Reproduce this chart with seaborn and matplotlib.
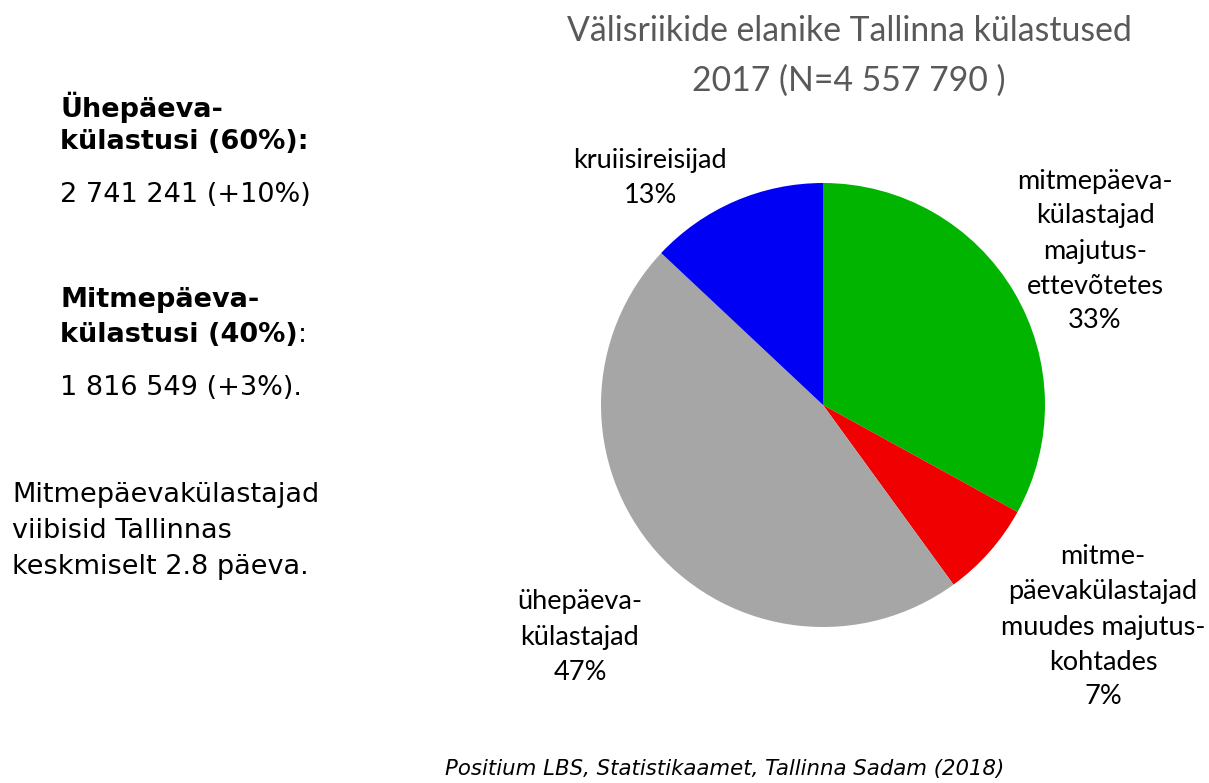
import matplotlib
matplotlib.use("Agg")
import matplotlib.pyplot as plt
import seaborn as sns

# andmed
osad = ["mitmepäeva-\nkülastajad\nmajutus-\nettevõtetes",
        "mitme-\npäevakülastajad\nmuudes majutus-\nkohtades",
        "ühepäeva-\nkülastajad",
        "kruiisireisijad"]
protsendid = [33, 7, 47, 13]
varvid = ["#00b400", "#f00000", "#a6a6a6", "#0000f5"]
# sildi keskpunktid pikslites (x, y ülevalt)
sildi_kohad = [(1095, 251), (1103, 627), (580, 637), (650, 178)]

pealkiri = "Välisriikide elanike Tallinna külastused\n2017 (N=4 557 790 )"
allikas = "Positium LBS, Statistikaamet, Tallinna Sadam (2018)"

W, H = 1209, 783

sns.set_theme(style="white")
plt.rcParams['font.family'] = ['DejaVu Sans']

fig = plt.figure(figsize=(W / 100, H / 100), dpi=100)
fig.patch.set_facecolor("white")

# pirukas
cx, cy, r = 823, 405, 222
ax = fig.add_axes([(cx - r) / W, (H - cy - r) / H, 2 * r / W, 2 * r / H])
ax.pie(protsendid, colors=varvid, startangle=90, counterclock=False,
       wedgeprops=dict(linewidth=0))
ax.set_xlim(-1, 1)
ax.set_ylim(-1, 1)
ax.set_aspect("equal")
ax.axis("off")

def px(x, y):
    return x / W, 1 - y / H

for nimi, p, (x, y) in zip(osad, protsendid, sildi_kohad):
    fig.text(*px(x, y), f"{nimi}\n{p}%", ha="center", va="center",
             fontsize=19.5, family="Lato", color="black", linespacing=1.5)

fig.text(*px(849, 56), pealkiri, ha="center", va="center", fontsize=24.3,
         family="Lato", color="#595959", linespacing=1.68)

fig.text(*px(725, 769), allikas, ha="center", va="center", fontsize=15.3,
         style="italic", family="DejaVu Sans", color="black")

# vasak tekst
fs = 19.5
bold_kw = dict(fontsize=fs, fontweight="bold", color="black", va="center", ha="left")
norm_kw = dict(fontsize=fs, color="black", va="center", ha="left")

fig.text(*px(60, 107), "Ühepäeva-", **bold_kw)
fig.text(*px(60, 142), "külastusi (60%):", **bold_kw)
fig.text(*px(60, 195), "2 741 241 (+10%)", **norm_kw)
fig.text(*px(60, 300), "Mitmepäeva-", **bold_kw)
t = fig.text(*px(60, 335), "külastusi (40%)", **bold_kw)
fig.canvas.draw()
bb = t.get_window_extent()
fig.text(bb.x1 / W, 1 - 335 / H, ":", **norm_kw)
fig.text(*px(60, 388), "1 816 549 (+3%).", **norm_kw)
fig.text(*px(12, 531), "Mitmepäevakülastajad\nviibisid Tallinnas\nkeskmiselt 2.8 päeva.",
         linespacing=1.48, **norm_kw)

fig.savefig("out.png", dpi=100, facecolor="white")
